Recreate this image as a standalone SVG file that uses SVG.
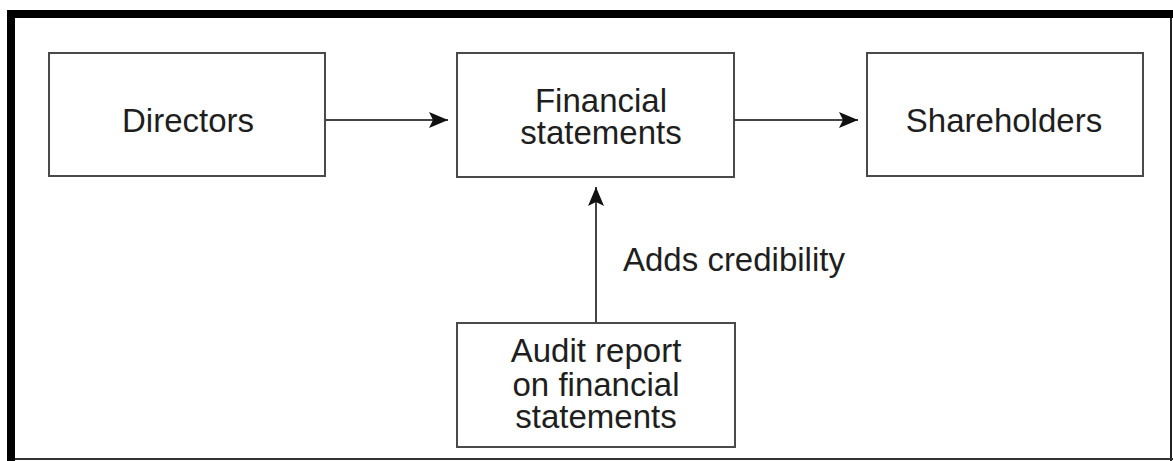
<svg xmlns="http://www.w3.org/2000/svg" width="1173" height="461" viewBox="0 0 1173 461">
<style>
.box{fill:#fff;stroke:#4a4a4a;stroke-width:2}
.lbl{font-family:"Liberation Sans",Arial,sans-serif;font-size:33px;fill:#1e1e1e;text-anchor:middle}
.conn{stroke:#444;stroke-width:2;fill:none}
</style>
<defs>
<marker id="ah" markerWidth="19" markerHeight="16" refX="19" refY="8" orient="auto" markerUnits="userSpaceOnUse">
<path d="M0,0 L19,8 L0,16 L4,8 Z" fill="#111"/>
</marker>
</defs>
<rect x="0" y="0" width="1173" height="461" fill="#fff"/>
<g id="frame">
<rect x="7" y="10" width="1166" height="8" fill="#000"/>
<rect x="7" y="10" width="8" height="451" fill="#000"/>
<line x1="1171" y1="18" x2="1171" y2="461" stroke="#222" stroke-width="2"/>
<line x1="15" y1="459" x2="1173" y2="459" stroke="#333" stroke-width="2"/>
</g>
<g id="directors">
<rect class="box" x="49" y="53" width="276" height="123"/>
<text class="lbl" x="188" y="132">Directors</text>
</g>
<g id="financial">
<rect class="box" x="457" y="53" width="277" height="124"/>
<text class="lbl" x="601" y="112">Financial</text>
<text class="lbl" x="601" y="144">statements</text>
</g>
<g id="shareholders">
<rect class="box" x="867" y="53" width="276" height="123"/>
<text class="lbl" x="1004" y="132">Shareholders</text>
</g>
<g id="audit">
<rect class="box" x="457" y="323" width="278" height="124"/>
<text class="lbl" x="596" y="362">Audit report</text>
<text class="lbl" x="596" y="396">on financial</text>
<text class="lbl" x="596" y="428">statements</text>
</g>
<g id="connectors">
<line class="conn" x1="325" y1="120" x2="448" y2="120" marker-end="url(#ah)"/>
<line class="conn" x1="734" y1="120" x2="858" y2="120" marker-end="url(#ah)"/>
<line class="conn" x1="596" y1="323" x2="596" y2="187" marker-end="url(#ah)"/>
<text class="lbl" x="623" y="271" style="text-anchor:start">Adds credibility</text>
</g>
</svg>
